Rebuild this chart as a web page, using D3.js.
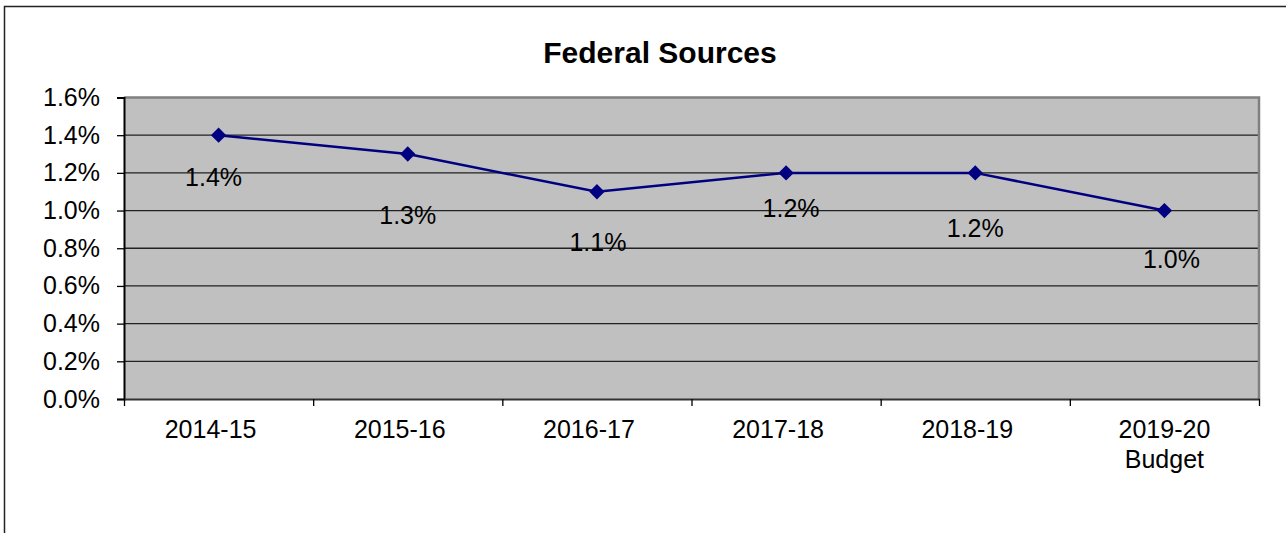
<!DOCTYPE html>
<html>
<head>
<meta charset="utf-8">
<script src="https://cdn.jsdelivr.net/npm/d3@7"></script>
<style>
  html, body { margin: 0; padding: 0; background: #fff; }
  svg { display: block; font-family: "Liberation Sans", Arial, sans-serif; }
</style>
</head>
<body>
<div id="chart"></div>
<script>
// chart data
const categories = ["2014-15", "2015-16", "2016-17", "2017-18", "2018-19", "2019-20\nBudget"];
const values = [1.4, 1.3, 1.1, 1.2, 1.2, 1.0];
const yTicks = [0, 0.2, 0.4, 0.6, 0.8, 1.0, 1.2, 1.4, 1.6];
// where excel dropped the data labels, relative to the point (px)
const labelDx = [-5, 0, 1, 5, 0, 7];
const labelDy = [42, 61, 50, 35, 55, 48];

const width = 1286, height = 533;
const plot = { left: 124, top: 97.5, right: 1259, bottom: 399 };

const svg = d3.select("#chart").append("svg")
  .attr("width", width)
  .attr("height", height);

// outer chart border (runs off the bottom/right of the shot)
svg.append("rect")
  .attr("x", 4.5).attr("y", 6.5)
  .attr("width", 1300).attr("height", 600)
  .attr("fill", "#fff")
  .attr("stroke", "#222")
  .attr("stroke-width", 1.5);

svg.append("text")
  .attr("x", 660).attr("y", 63)
  .attr("text-anchor", "middle")
  .style("font-size", "30px")
  .style("font-weight", "bold")
  .text("Federal Sources");

const x = d3.scaleBand()
  .domain(categories)
  .range([plot.left, plot.right])
  .paddingInner(0).paddingOuter(0);

const y = d3.scaleLinear()
  .domain([0, 1.6])
  .range([plot.bottom, plot.top]);

// plot background
svg.append("rect")
  .attr("x", plot.left).attr("y", plot.top)
  .attr("width", plot.right - plot.left)
  .attr("height", plot.bottom - plot.top)
  .attr("fill", "#c0c0c0");

// gridlines
svg.append("g")
  .selectAll("line")
  .data(yTicks.filter(d => d > 0 && d < 1.6))
  .enter().append("line")
  .attr("x1", plot.left).attr("x2", plot.right)
  .attr("y1", d => y(d)).attr("y2", d => y(d))
  .attr("stroke", "#222")
  .attr("stroke-width", 1.3);

// top / right frame in grey
svg.append("path")
  .attr("d", `M${plot.left},${plot.top}H${plot.right}V${plot.bottom}`)
  .attr("fill", "none")
  .attr("stroke", "#808080")
  .attr("stroke-width", 2.5);

// y axis
const yAxis = d3.axisLeft(y)
  .tickValues(yTicks)
  .tickFormat(d => d.toFixed(1) + "%")
  .tickSize(7)
  .tickPadding(17);

const gy = svg.append("g")
  .attr("transform", `translate(${plot.left},0)`)
  .call(yAxis);
gy.select(".domain").attr("stroke", "#000").attr("stroke-width", 2);
gy.selectAll(".tick line").attr("stroke", "#000").attr("stroke-width", 1.3);
gy.selectAll("text")
  .style("font-size", "25px")
  .attr("fill", "#000")
  .attr("font-family", null);

// x axis: ticks at the category boundaries
const xEdge = d3.scaleLinear()
  .domain([0, categories.length])
  .range([plot.left, plot.right]);

const gx = svg.append("g")
  .attr("transform", `translate(0,${plot.bottom})`)
  .call(d3.axisBottom(xEdge)
    .tickValues(d3.range(categories.length + 1))
    .tickFormat("")
    .tickSize(7)
    .tickSizeOuter(0));
gx.select(".domain").attr("stroke", "#333").attr("stroke-width", 2);
gx.selectAll(".tick line").attr("stroke", "#000").attr("stroke-width", 1.3);

// category labels (single-line ones sit a touch left in the original)
const xl = svg.append("g")
  .selectAll("text")
  .data(categories)
  .enter().append("text")
  .attr("text-anchor", "middle")
  .style("font-size", "25px")
  .attr("fill", "#000");

xl.each(function (d) {
  const lines = d.split("\n");
  const cx = x(d) + x.bandwidth() / 2 + (lines.length > 1 ? 0 : -8);
  d3.select(this).selectAll("tspan")
    .data(lines)
    .enter().append("tspan")
    .attr("x", cx)
    .attr("y", (l, i) => 438 + i * 30)
    .text(l => l);
});

// series line
const pts = categories.map((c, i) => ({ c, v: values[i], i }));

svg.append("path")
  .datum(pts)
  .attr("fill", "none")
  .attr("stroke", "#000080")
  .attr("stroke-width", 2.5)
  .attr("d", d3.line()
    .x(d => x(d.c) + x.bandwidth() / 2)
    .y(d => y(d.v)));

svg.append("g")
  .selectAll("path")
  .data(pts)
  .enter().append("path")
  .attr("transform", d => `translate(${x(d.c) + x.bandwidth() / 2},${y(d.v)})`)
  .attr("d", d3.symbol(d3.symbolDiamond2, 150)())
  .attr("fill", "#000080");

// data labels
svg.append("g")
  .selectAll("text")
  .data(pts)
  .enter().append("text")
  .attr("x", d => x(d.c) + x.bandwidth() / 2 + labelDx[d.i])
  .attr("y", d => y(d.v) + labelDy[d.i])
  .attr("dy", "0.36em")
  .attr("text-anchor", "middle")
  .style("font-size", "25px")
  .attr("fill", "#000")
  .text(d => d.v.toFixed(1) + "%");
</script>
</body>
</html>
